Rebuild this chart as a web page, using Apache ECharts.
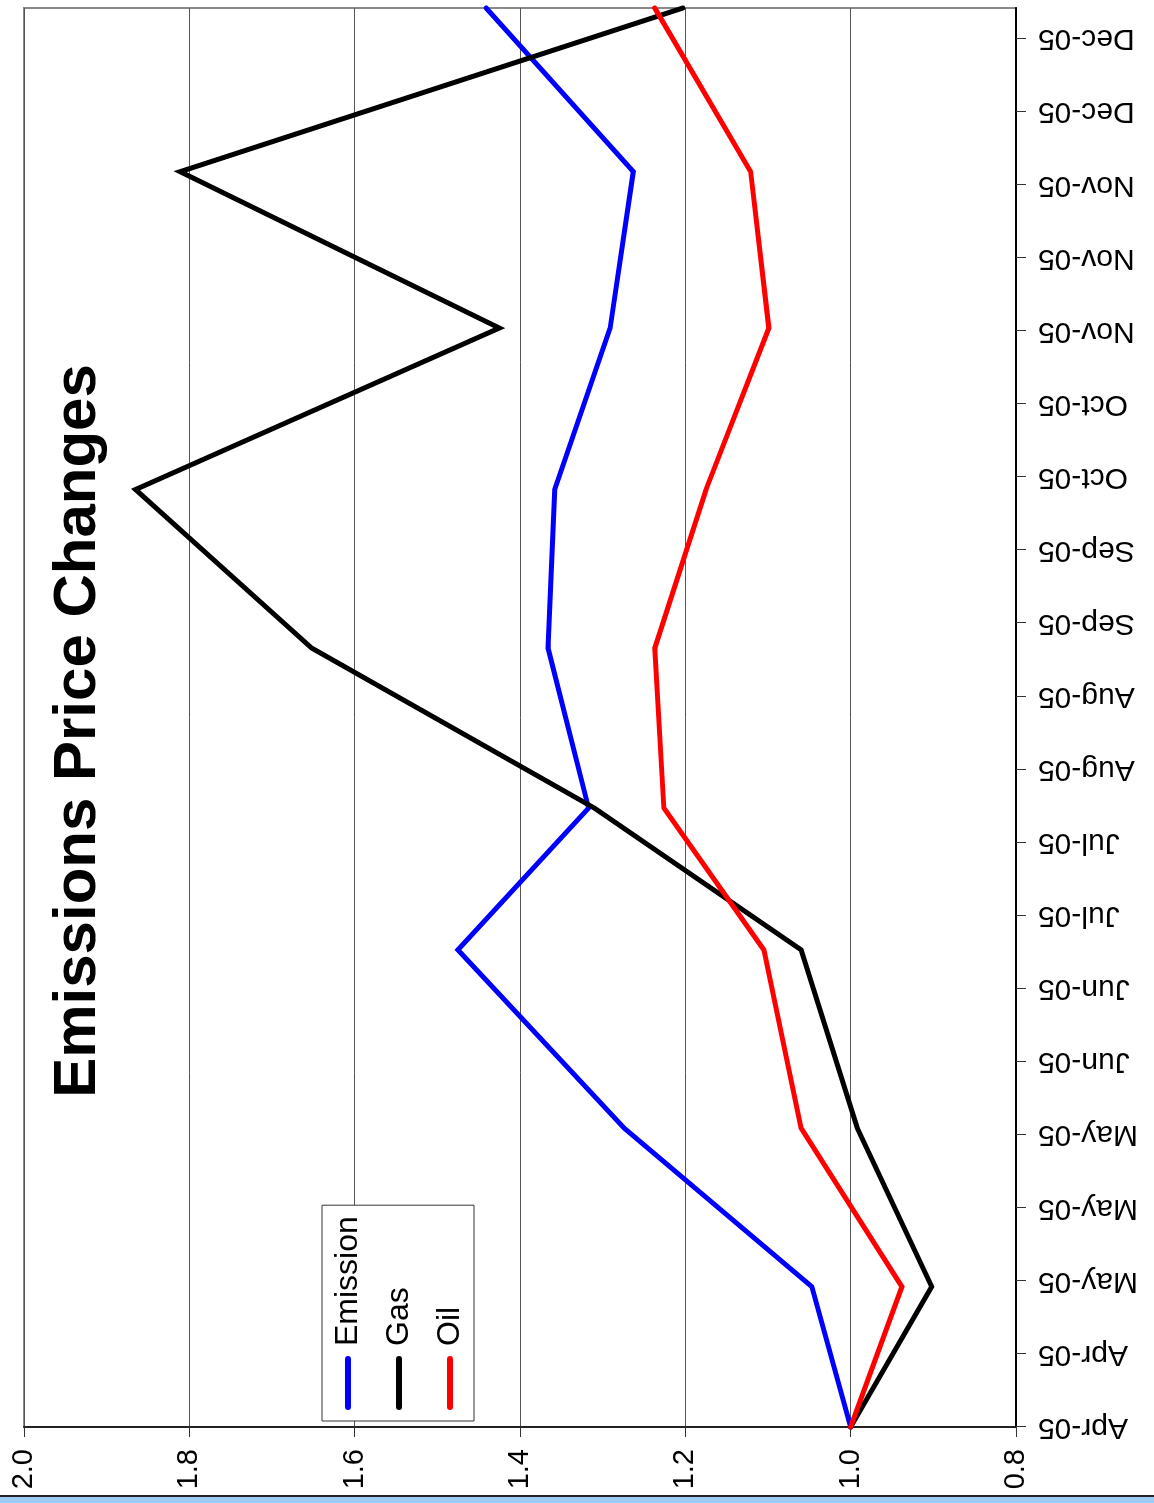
<!DOCTYPE html>
<html>
<head>
<meta charset="utf-8">
<title>Emissions Price Changes</title>
<script src="https://cdn.jsdelivr.net/npm/echarts@6/dist/echarts.min.js"></script>
<style>
  html, body { margin: 0; padding: 0; background: #ffffff; overflow: hidden; }
  body { width: 1154px; height: 1503px; position: relative; }
  /* chart is laid out landscape, then turned a quarter turn counter-clockwise */
  #chart {
    position: absolute; left: 0; top: 0;
    width: 1503px; height: 1154px;
    transform-origin: 0 0;
    transform: translate(0, 1503px) rotate(-90deg);
  }
  #strip {
    position: absolute; left: 0; top: 1495px; width: 1154px; height: 8px;
    border-top: 2px solid #222; background: #9ecbf6; box-sizing: border-box;
  }
</style>
</head>
<body>
<div id="chart"></div>
<div id="strip"></div>
<script>
// axis tick labels, one per major tick of the date axis
const tickLabels = ['Apr-05', 'Apr-05', 'May-05', 'May-05', 'May-05', 'Jun-05', 'Jun-05',
  'Jul-05', 'Jul-05', 'Aug-05', 'Aug-05', 'Sep-05', 'Sep-05', 'Oct-05', 'Oct-05',
  'Nov-05', 'Nov-05', 'Nov-05', 'Dec-05', 'Dec-05'];
const tickPositions = tickLabels.map((_, i) => i);

// observation dates, expressed in major-tick units along the date axis
const obsPos = [0, 1.92, 4.09, 6.53, 8.47, 10.66, 12.83, 15.04, 17.18, 19.42];

// price indices (start = 1.0)
const emission = [1.0, 1.047, 1.274, 1.475, 1.317, 1.366, 1.358, 1.291, 1.263, 1.441];
const gas      = [1.0, 0.902, 0.992, 1.060, 1.310, 1.652, 1.865, 1.425, 1.811, 1.203];
const oil      = [1.0, 0.938, 1.060, 1.105, 1.226, 1.237, 1.175, 1.099, 1.121, 1.237];

const valueTicks = { min: 0.8, max: 2.0, interval: 0.2 };

const FONT = '"Liberation Sans", Arial, Helvetica, sans-serif';

function pairs(values) {
  return values.map((v, i) => [obsPos[i], v]);
}

function lineSeries(name, color, values) {
  return {
    name: name,
    type: 'line',
    data: pairs(values),
    symbol: 'none',
    clip: true,
    lineStyle: { color: color, width: 5, join: 'miter', cap: 'round' },
    itemStyle: { color: color },
    z: 3
  };
}

const capsule = 'path://M3,0 L51,0 A3,3 0 0 1 51,6 L3,6 A3,3 0 0 1 3,0 Z';

const chart = echarts.init(document.getElementById('chart'), null, { renderer: 'canvas' });
chart.setOption({
  animation: false,
  backgroundColor: '#ffffff',
  textStyle: { fontFamily: FONT },
  title: {
    text: 'Emissions Price Changes',
    left: 772,
    top: 48,
    padding: 0,
    textAlign: 'center',
    textStyle: { fontFamily: FONT, fontSize: 60, fontWeight: 'bold', color: '#000' }
  },
  legend: {
    orient: 'vertical',
    left: 82,
    top: 322,
    padding: [10, 11, 8, 11],
    itemGap: 19,
    itemWidth: 54,
    itemHeight: 6,
    icon: capsule,
    backgroundColor: '#ffffff',
    borderColor: '#333333',
    borderWidth: 1,
    borderRadius: 0,
    textStyle: { fontFamily: FONT, fontSize: 32, color: '#000', padding: [0, 0, 0, 5] },
    data: ['Emission', 'Gas', 'Oil']
  },
  grid: {
    left: 76, right: 8, top: 24, bottom: 138,
    show: true, borderColor: '#8a8a8a', borderWidth: 2,
    containLabel: false
  },
  xAxis: {
    type: 'value',
    min: 0,
    max: obsPos[obsPos.length - 1],
    interval: 1,
    axisLine: { show: true, onZero: false, lineStyle: { color: '#000', width: 2 } },
    axisTick: { show: true, length: 10, customValues: tickPositions, lineStyle: { color: '#333', width: 1 } },
    splitLine: { show: false },
    axisLabel: {
      customValues: tickPositions,
      rotate: 90,
      margin: 22,
      fontFamily: FONT,
      fontSize: 30,
      color: '#000',
      formatter: v => tickLabels[Math.round(v)] || ''
    }
  },
  yAxis: {
    type: 'value',
    min: valueTicks.min,
    max: valueTicks.max,
    interval: valueTicks.interval,
    axisLine: { show: true, onZero: false, lineStyle: { color: '#222', width: 2 } },
    axisTick: { show: true, length: 10, lineStyle: { color: '#333', width: 1 } },
    splitLine: { show: true, lineStyle: { color: '#555', width: 1 } },
    axisLabel: {
      margin: 22,
      fontFamily: FONT,
      fontSize: 29,
      color: '#000',
      formatter: v => v.toFixed(1)
    }
  },
  series: [
    lineSeries('Emission', '#0000ff', emission),
    lineSeries('Gas', '#000000', gas),
    lineSeries('Oil', '#ff0000', oil)
  ]
});
</script>
</body>
</html>
